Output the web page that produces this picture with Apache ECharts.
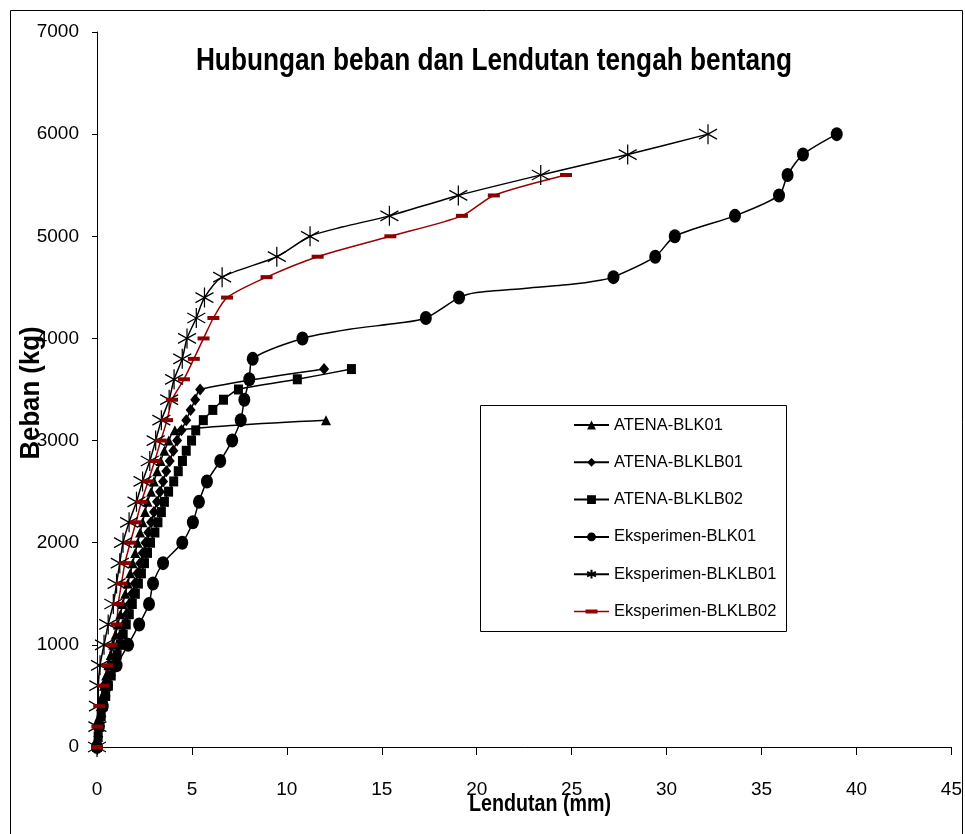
<!DOCTYPE html>
<html>
<head>
<meta charset="utf-8">
<script src="https://cdn.jsdelivr.net/npm/echarts@6/dist/echarts.min.js"></script>
<style>
html,body{margin:0;padding:0;background:#fff;}
#chart{width:965px;height:834px;}
</style>
</head>
<body>
<div id="chart"></div>
<script>
// ---- Data (deflection in mm, load in kg) ----
const seriesNames = ['ATENA-BLK01','ATENA-BLKLB01','ATENA-BLKLB02','Eksperimen-BLK01','Eksperimen-BLKLB01','Eksperimen-BLKLB02'];

const atenaBLK01Defl = [0,0.04,0.08,0.13,0.19,0.27,0.37,0.48,0.6,0.72,0.85,0.98,1.1,1.23,1.36,1.49,1.62,1.75,1.88,2.01,2.14,2.27,2.4,2.53,2.66,2.85,3.0,3.17,3.35,3.55,3.78,4.1,12.06];
const atenaBLK01Load = [0,100,200,300,400,500,600,700,800,900,1000,1100,1200,1300,1400,1500,1600,1700,1800,1900,2000,2100,2200,2300,2400,2500,2600,2700,2800,2900,3000,3100,3200];

const atenaBLKLB01Defl = [0,0.07,0.14,0.23,0.33,0.45,0.59,0.73,0.87,1.01,1.15,1.29,1.43,1.57,1.71,1.85,1.99,2.13,2.27,2.41,2.55,2.7,2.85,3.0,3.16,3.32,3.48,3.65,3.83,4.02,4.22,4.45,4.7,4.93,5.17,5.43,11.96];
const atenaBLKLB01Load = [0,100,200,300,400,500,600,700,800,900,1000,1100,1200,1300,1400,1500,1600,1700,1800,1900,2000,2100,2200,2300,2400,2500,2600,2700,2800,2900,3000,3100,3200,3300,3400,3500,3700];

const atenaBLKLB02Defl = [0,0.06,0.13,0.22,0.33,0.46,0.6,0.75,0.9,1.06,1.22,1.38,1.54,1.7,1.86,2.02,2.18,2.34,2.5,2.66,2.82,3.05,3.21,3.39,3.55,3.77,4.04,4.28,4.5,4.7,4.98,5.2,5.6,6.1,6.66,7.45,10.55,13.4];
const atenaBLKLB02Load = [0,100,200,300,400,500,600,700,800,900,1000,1100,1200,1300,1400,1500,1600,1700,1800,1900,2000,2100,2200,2300,2400,2500,2600,2700,2800,2900,3000,3100,3200,3300,3400,3500,3600,3700];

// marker flag: 1 = point drawn with marker, 0 = line-only point
const eksBLK01Defl = [0,0.1,0.3,0.51,1.03,1.64,2.22,2.74,2.95,3.48,4.49,5.05,5.37,5.79,6.49,7.12,7.57,7.76,8.02,8.2,10.82,13.3,15.9,17.32,19.07,20.0,22.5,25.0,26.5,27.2,29.4,30.43,33.6,35.92,36.37,37.18,38.96];
const eksBLK01Load = [0,200,400,600,800,1000,1200,1400,1600,1800,2000,2200,2400,2600,2800,3000,3200,3400,3600,3800,4000,4090,4150,4200,4400,4450,4490,4530,4570,4600,4800,5000,5200,5400,5600,5800,6000];
const eksBLK01Mark = [1,1,1,1,1,1,1,1,1,1,1,1,1,1,1,1,1,1,1,1,1,0,0,1,1,0,0,0,0,1,1,1,1,1,1,1,1];

const eksBLKLB01Defl = [0,0.02,0.05,0.07,0.16,0.37,0.59,0.86,1.03,1.2,1.37,1.69,2.08,2.4,2.78,3.09,3.39,3.8,4.06,4.49,4.74,5.23,5.66,6.59,9.47,11.22,12.9,15.4,19.03,23.37,27.95,32.18];
const eksBLKLB01Load = [0,200,400,600,800,1000,1200,1400,1600,1800,2000,2200,2400,2600,2800,3000,3200,3400,3600,3800,4000,4200,4400,4600,4800,5000,5090,5200,5400,5600,5800,6000];
const eksBLKLB01Mark = [1,1,1,1,1,1,1,1,1,1,1,1,1,1,1,1,1,1,1,1,1,1,1,1,1,1,0,1,1,1,1,1];

const eksBLKLB02Defl = [0,0.02,0.12,0.33,0.54,0.77,1.03,1.12,1.29,1.47,1.75,2.05,2.34,2.69,3.04,3.36,3.69,3.95,4.58,5.1,5.61,6.13,6.85,8.93,11.62,15.45,19.22,20.9,24.7];
const eksBLKLB02Load = [0,200,400,600,800,1000,1200,1400,1600,1800,2000,2200,2400,2600,2800,3000,3200,3400,3600,3800,4000,4200,4400,4600,4800,5000,5200,5400,5600];

const xTicks = {min:0, max:45, interval:5};
const yTicks = {min:0, max:7000, interval:1000};

// ---- helpers ----
function pairs(xs, ys, marks){
  return xs.map((x,i)=>{
    if (marks && !marks[i]) return {value:[x, ys[i]], symbol:'none'};
    return [x, ys[i]];
  });
}

const FONT = "'Liberation Sans',Arial,sans-serif";
const asteriskPath = 'path://M10,0 L10,20 M1.34,5 L18.66,15 M1.34,15 L18.66,5';
const dashPath = 'path://M0,0 L3,0 L3,1 L0,1 Z';
// legend icon for the red series: thin line + short dash, in a 35x11 box (corner anchors keep the box size)
const redLegendIcon = 'path://M0,0 L0.01,0 L0.01,0.01 Z M35,11 L34.99,11 L34.99,10.99 Z M0,4.8 L35,4.8 L35,6.2 L0,6.2 Z M11.5,3.5 L23.5,3.5 L23.5,7.5 L11.5,7.5 Z';

const chart = echarts.init(document.getElementById('chart'), null, {renderer:'canvas'});

const baseLine = {type:'line', smooth:0.25, showAllSymbol:true, animation:false, z:2};

const legendData = seriesNames.map((n,i)=> i===5 ? {name:n, icon:redLegendIcon, itemStyle:{color:'#990000', borderWidth:0}} : {name:n});

const option = {
  backgroundColor:'#ffffff',
  animation:false,
  grid:{left:97, right:10, top:32, bottom:87, containLabel:false},
  xAxis:{
    type:'value', min:xTicks.min, max:xTicks.max, interval:xTicks.interval,
    axisLine:{show:true, onZero:false, lineStyle:{color:'#000', width:1}},
    axisTick:{show:true, inside:false, length:8, lineStyle:{color:'#000'}},
    axisLabel:{color:'#000', fontFamily:FONT, fontSize:19, margin:33, formatter:(v)=>String(v)},
    splitLine:{show:false}
  },
  yAxis:{
    type:'value', min:yTicks.min, max:yTicks.max, interval:yTicks.interval,
    axisLine:{show:true, onZero:false, lineStyle:{color:'#000', width:1}},
    axisTick:{show:true, inside:false, length:5, lineStyle:{color:'#000'}},
    axisLabel:{color:'#000', fontFamily:FONT, fontSize:19, margin:18, formatter:(v)=>String(v)},
    splitLine:{show:false}
  },
  legend:{
    orient:'vertical', left:573, top:415, padding:0, z:6,
    itemWidth:35, itemHeight:11, itemGap:17.3, itemTextGap:4,
    textStyle:{color:'#000', fontFamily:FONT, fontSize:16.5, lineHeight:20},
    data:legendData
  },
  graphic:[
    {type:'rect', shape:{x:10.5, y:10.5, width:952, height:840}, style:{fill:'none', stroke:'#000', lineWidth:1}, silent:true, z:-1},
    {type:'rect', shape:{x:480.5, y:405.5, width:306, height:226}, style:{fill:'#fff', stroke:'#000', lineWidth:1}, silent:true, z:3},
    {type:'text', x:494, y:61, scaleX:0.82, z:10, style:{text:'Hubungan beban dan Lendutan tengah bentang', fontFamily:FONT, fontWeight:'bold', fontSize:32, fill:'#000', align:'center', verticalAlign:'middle'}},
    {type:'text', x:540, y:804, scaleX:0.82, z:10, style:{text:'Lendutan (mm)', fontFamily:FONT, fontWeight:'bold', fontSize:24, fill:'#000', align:'center', verticalAlign:'middle'}},
    {type:'text', x:31, y:393, rotation:Math.PI/2, scaleX:0.92, z:10, style:{text:'Beban (kg)', fontFamily:FONT, fontWeight:'bold', fontSize:28, fill:'#000', align:'center', verticalAlign:'middle'}}
  ],
  series:[
    Object.assign({}, baseLine, {
      name:seriesNames[0], data:pairs(atenaBLK01Defl, atenaBLK01Load),
      symbol:'triangle', symbolSize:[10,10],
      lineStyle:{color:'#000', width:1.5}, itemStyle:{color:'#000'}
    }),
    Object.assign({}, baseLine, {
      name:seriesNames[1], data:pairs(atenaBLKLB01Defl, atenaBLKLB01Load),
      symbol:'diamond', symbolSize:[10,12],
      lineStyle:{color:'#000', width:1.5}, itemStyle:{color:'#000'}
    }),
    Object.assign({}, baseLine, {
      name:seriesNames[2], data:pairs(atenaBLKLB02Defl, atenaBLKLB02Load),
      symbol:'rect', symbolSize:[9,10],
      lineStyle:{color:'#000', width:1.5}, itemStyle:{color:'#000'}
    }),
    Object.assign({}, baseLine, {
      name:seriesNames[3], data:pairs(eksBLK01Defl, eksBLK01Load, eksBLK01Mark),
      symbol:'circle', symbolSize:[12,14],
      lineStyle:{color:'#000', width:1.5}, itemStyle:{color:'#000'}
    }),
    Object.assign({}, baseLine, {
      name:seriesNames[4], data:pairs(eksBLKLB01Defl, eksBLKLB01Load, eksBLKLB01Mark),
      symbol:asteriskPath, symbolSize:[18,20],
      lineStyle:{color:'#000', width:1.5}, itemStyle:{color:'rgba(0,0,0,0)', borderColor:'#000', borderWidth:1.3}
    }),
    Object.assign({}, baseLine, {
      name:seriesNames[5], data:pairs(eksBLKLB02Defl, eksBLKLB02Load),
      symbol:dashPath, symbolSize:[12,4],
      lineStyle:{color:'#990000', width:1.5}, itemStyle:{color:'#8b0000'}
    })
  ]
};
chart.setOption(option);
</script>
</body>
</html>
